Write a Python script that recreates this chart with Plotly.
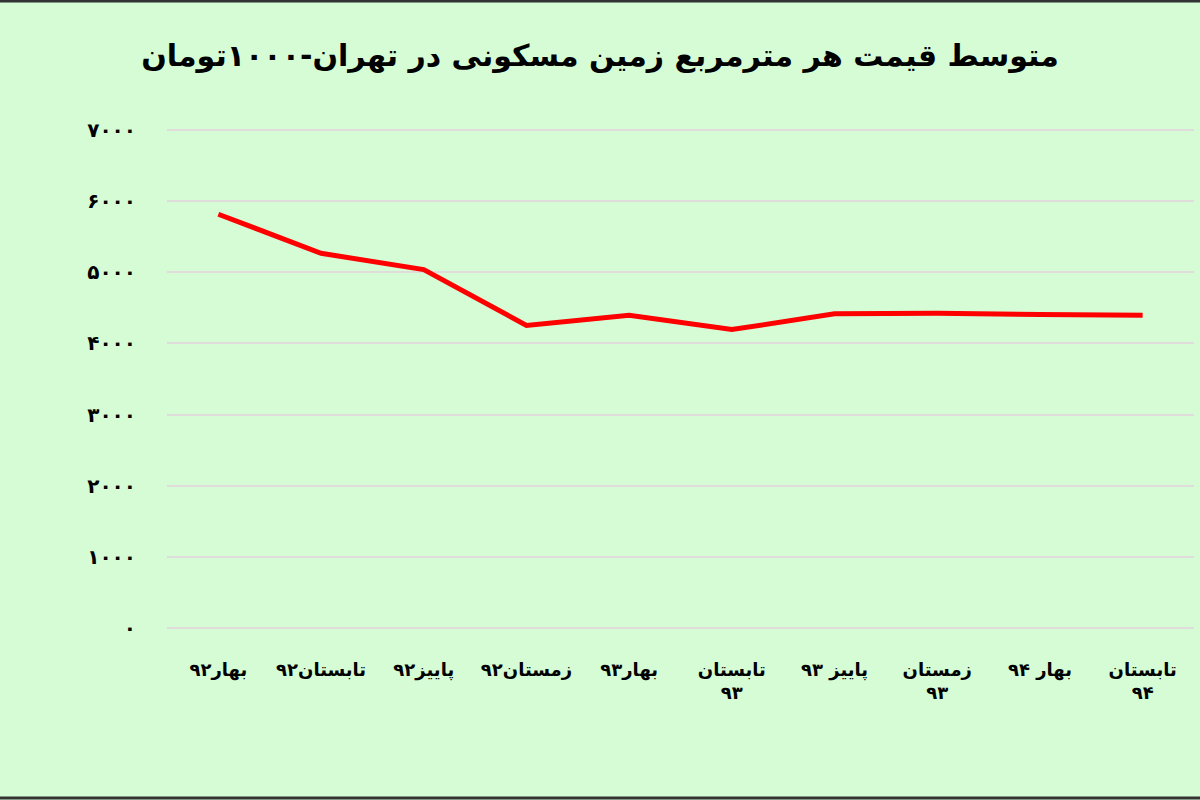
import plotly.graph_objects as go

# quarters (season + year), shown with Persian digits
quarters = ["بهار۹۲", "تابستان۹۲", "پاییز۹۲", "زمستان۹۲", "بهار۹۳",
            "تابستان<br>۹۳", "پاییز ۹۳", "زمستان<br>۹۳", "بهار ۹۴", "تابستان<br>۹۴"]
# average price per m2 of residential land in Tehran, thousand toman
prices = [5820, 5270, 5040, 4255, 4397, 4196, 4417, 4425, 4407, 4397]

y_ticks = [0, 1000, 2000, 3000, 4000, 5000, 6000, 7000]
y_labels = ["۰", "۱۰۰۰", "۲۰۰۰", "۳۰۰۰", "۴۰۰۰", "۵۰۰۰", "۶۰۰۰", "۷۰۰۰"]

title = "متوسط قیمت هر مترمربع زمین مسکونی در تهران-۱۰۰۰تومان"

W, H = 1200, 800
ml, mr, mt, mb = 167, 6, 129, 171
bg = "#d5fcd5"
fnt = "DejaVu Sans"

fig = go.Figure()
fig.add_trace(go.Scatter(x=list(range(len(quarters))), y=prices, mode="lines",
                         line=dict(color="#ff0000", width=5)))

fig.update_layout(
    width=W, height=H,
    margin=dict(l=ml, r=mr, t=mt, b=mb),
    paper_bgcolor=bg, plot_bgcolor=bg,
    showlegend=False,
    font=dict(family=fnt, color="black"),
    title=dict(text="<b>" + title + "</b>", x=0.5, xref="container", xanchor="center",
               y=1 - 55 / H, yanchor="middle",
               font=dict(size=30, family=fnt, color="black")),
)
fig.update_xaxes(range=[-0.5, len(quarters) - 0.5], tickmode="array",
                 tickvals=list(range(len(quarters))),
                 ticktext=["<b>" + q.replace("<br>", "</b><br><b>") + "</b>" for q in quarters],
                 showgrid=False, showline=False, zeroline=False, ticks="",
                 ticklabelstandoff=28, tickangle=0,
                 tickfont=dict(size=18, family=fnt))
fig.update_yaxes(range=[-20, 7020], tickvals=y_ticks,
                 ticktext=["<b>" + t + "</b>" for t in y_labels],
                 showgrid=True, gridcolor="#e0dcdc", gridwidth=2,
                 zeroline=False, showline=False, ticks="", ticklabelstandoff=30,
                 tickfont=dict(size=20, family=fnt))

# thin dark frame lines at top and bottom of the image
pw, ph = W - ml - mr, H - mt - mb
for yy in (1 + (mt - 1) / ph, -(mb - 2) / ph):
    fig.add_shape(type="line", xref="paper", yref="paper",
                  x0=-ml / pw, x1=(W - ml) / pw, y0=yy, y1=yy,
                  line=dict(color="#333333", width=3))

fig.write_html("out.html", config={"displayModeBar": False},
               post_script="document.body.style.margin='0';")
